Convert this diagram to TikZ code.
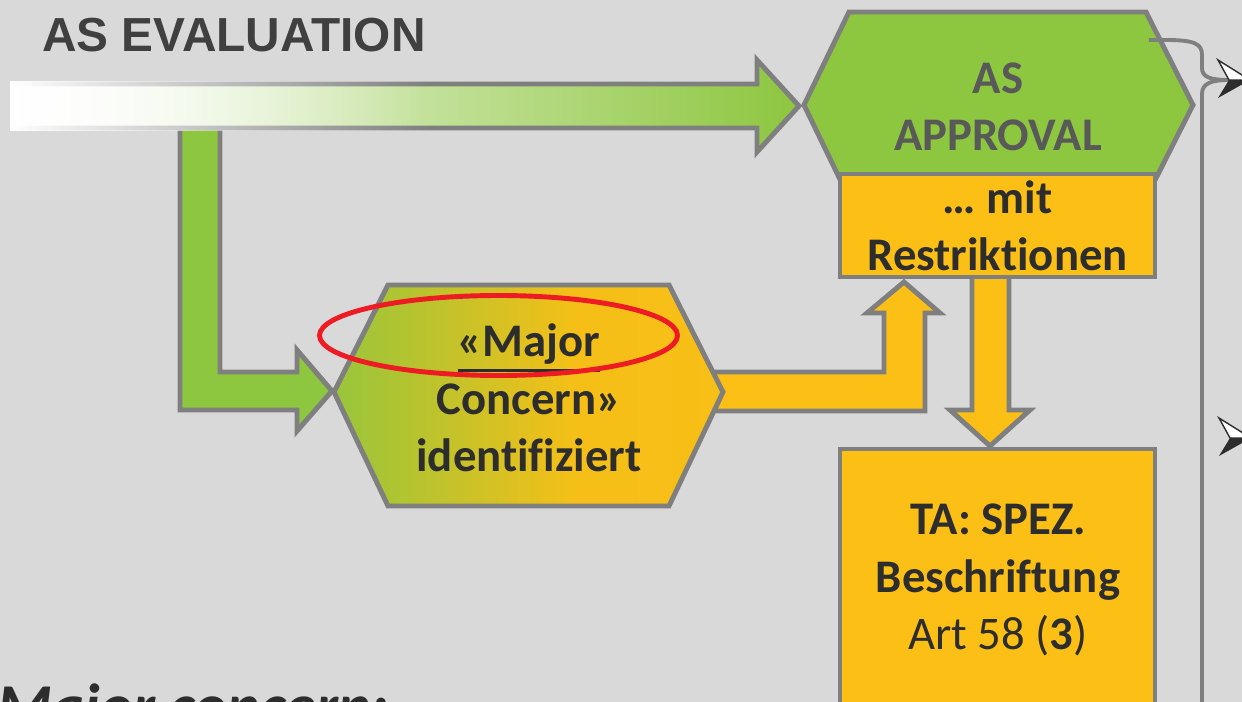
\documentclass[tikz,border=0pt]{standalone}
\usepackage{fontspec}
\setmainfont{Carlito}[Ligatures=NoCommon]
\newfontfamily\headfont{Liberation Sans}
\usetikzlibrary{fadings}

\definecolor{paper}{HTML}{D9D9D9}
\definecolor{leafgreen}{HTML}{8DC63F}
\definecolor{amber}{HTML}{FBBF15}
\definecolor{rimgray}{HTML}{7F7F7F}
\definecolor{ink}{HTML}{2D2D2D}
\definecolor{inkgray}{HTML}{595959}
\definecolor{alarm}{HTML}{ED1C24}

% green on the left, amber on the right (middle 25bp--75bp is used)
\pgfdeclarehorizontalshading{greentoamber}{100bp}{color(0bp)=(leafgreen); color(25bp)=(leafgreen!90!amber);
  color(40bp)=(leafgreen!50!amber); color(56bp)=(amber!95!leafgreen); color(100bp)=(amber)}

\newcommand\thickul[1]{\vtop{\hbox{#1}\kern2.6pt\hrule height 1.7pt}}

\tikzset{
  rim/.style={draw=rimgray, line width=2.8pt, line join=miter},
  greenblock/.style={rim, fill=leafgreen},
  amberblock/.style={rim, fill=amber},
  boxtext/.style={font=\fontsize{26.6}{32.6}\selectfont\bfseries, text=ink, align=center, inner sep=0pt},
  bracket/.style={draw=rimgray, line width=2.2pt},
  dart/.pic={
    \fill[ink] (0,0) -- (21,0) -- (-11,18) -- cycle;
    \filldraw[fill=white, draw=ink, line width=0.8pt, line join=miter] (0,0) -- (21,0) -- (-11,-20) -- cycle;
  }
}

\begin{document}
\begin{tikzpicture}[x=0.02cm, y=-0.02cm]
  \useasboundingbox (0,0) rectangle (1242,702);
  \clip (0,0) rectangle (1242,702);
  \fill[paper] (0,0) rectangle (1242,702);

  \node[anchor=base west, inner sep=0pt, text=black!75, font=\headfont\fontsize{27.2}{30}\selectfont\bfseries]
    (title) at (42,52) {AS EVALUATION};

  % L-shaped arrow down into the concern box
  \draw[greenblock] (180,128) -- (180,410) -- (297,410) -- (297,431) -- (332,391)
    -- (297,350) -- (297,372) -- (220,372) -- (220,128);

  % long arrow into the approval box, fading in from the left
  \shadedraw[rim, left color=white, right color=leafgreen]
    (13,84) -- (757,84) -- (757,60) -- (799,106) -- (757,152) -- (757,128) -- (13,128) -- cycle;
  \fill[white, path fading=east] (10,81) rectangle (430,131);

  % amber arrow up to the restrictions box
  \draw[amberblock] (700,372) -- (884,372) -- (884,313) -- (867,313) -- (904,282)
    -- (940,313) -- (925,313) -- (925,411) -- (700,411) -- cycle;

  % concern box
  \shadedraw[rim, shading=greentoamber]
    (388,285) -- (669,285) -- (723,392) -- (669,506) -- (388,506) -- (334,392) -- cycle;
  \node[boxtext] (concern) at (529,398)
    {\thickul{«Major}\\Concern»\\identifiziert};
  \draw[alarm, line width=2.8pt] (498.5,335.5) ellipse [x radius=179, y radius=40];

  % amber arrow down to the labelling box
  \draw[amberblock] (972,270) -- (972,410) -- (950,410) -- (990,446) -- (1030,410)
    -- (1009,410) -- (1009,270);

  % approval box
  \draw[greenblock] (849,12) -- (1146,12) -- (1193,105) -- (1146,198) -- (849,198) -- (804,105) -- cycle;
  \node[boxtext, text=inkgray] (approval) at (998,107) {AS\\APPROVAL};

  \node[amberblock, boxtext, minimum width=6.3cm, minimum height=2.06cm] (restr) at (997.5,225.5)
    {… mit\\Restriktionen};

  \draw[amberblock] (840,449) rectangle (1155,740);
  \node[boxtext] (label) at (998,580)
    {TA: SPEZ.\\Beschriftung\\\mdseries Art 58 (\textbf{3})};

  % bracket out of the approval box
  \coordinate (leave) at (1149,40);
  \coordinate (join) at (1229,80);
  \draw[bracket] (leave) -- (1166,40) .. controls (1195,40) and (1202,44) .. (1202,55)
    -- (1202,68) .. controls (1202,77) and (1210,80) .. (join);
  \draw[bracket] (1202,720) -- (1202,94) .. controls (1202,84) and (1210,80) .. (join);
  \pic at (join) {dart};
  \pic at (1230,438) {dart};

  \node[anchor=base west, inner sep=0pt, text=ink, font=\fontsize{35.5}{40}\selectfont\bfseries\itshape]
    (note) at (-3,727) {Major concern:};
\end{tikzpicture}
\end{document}
